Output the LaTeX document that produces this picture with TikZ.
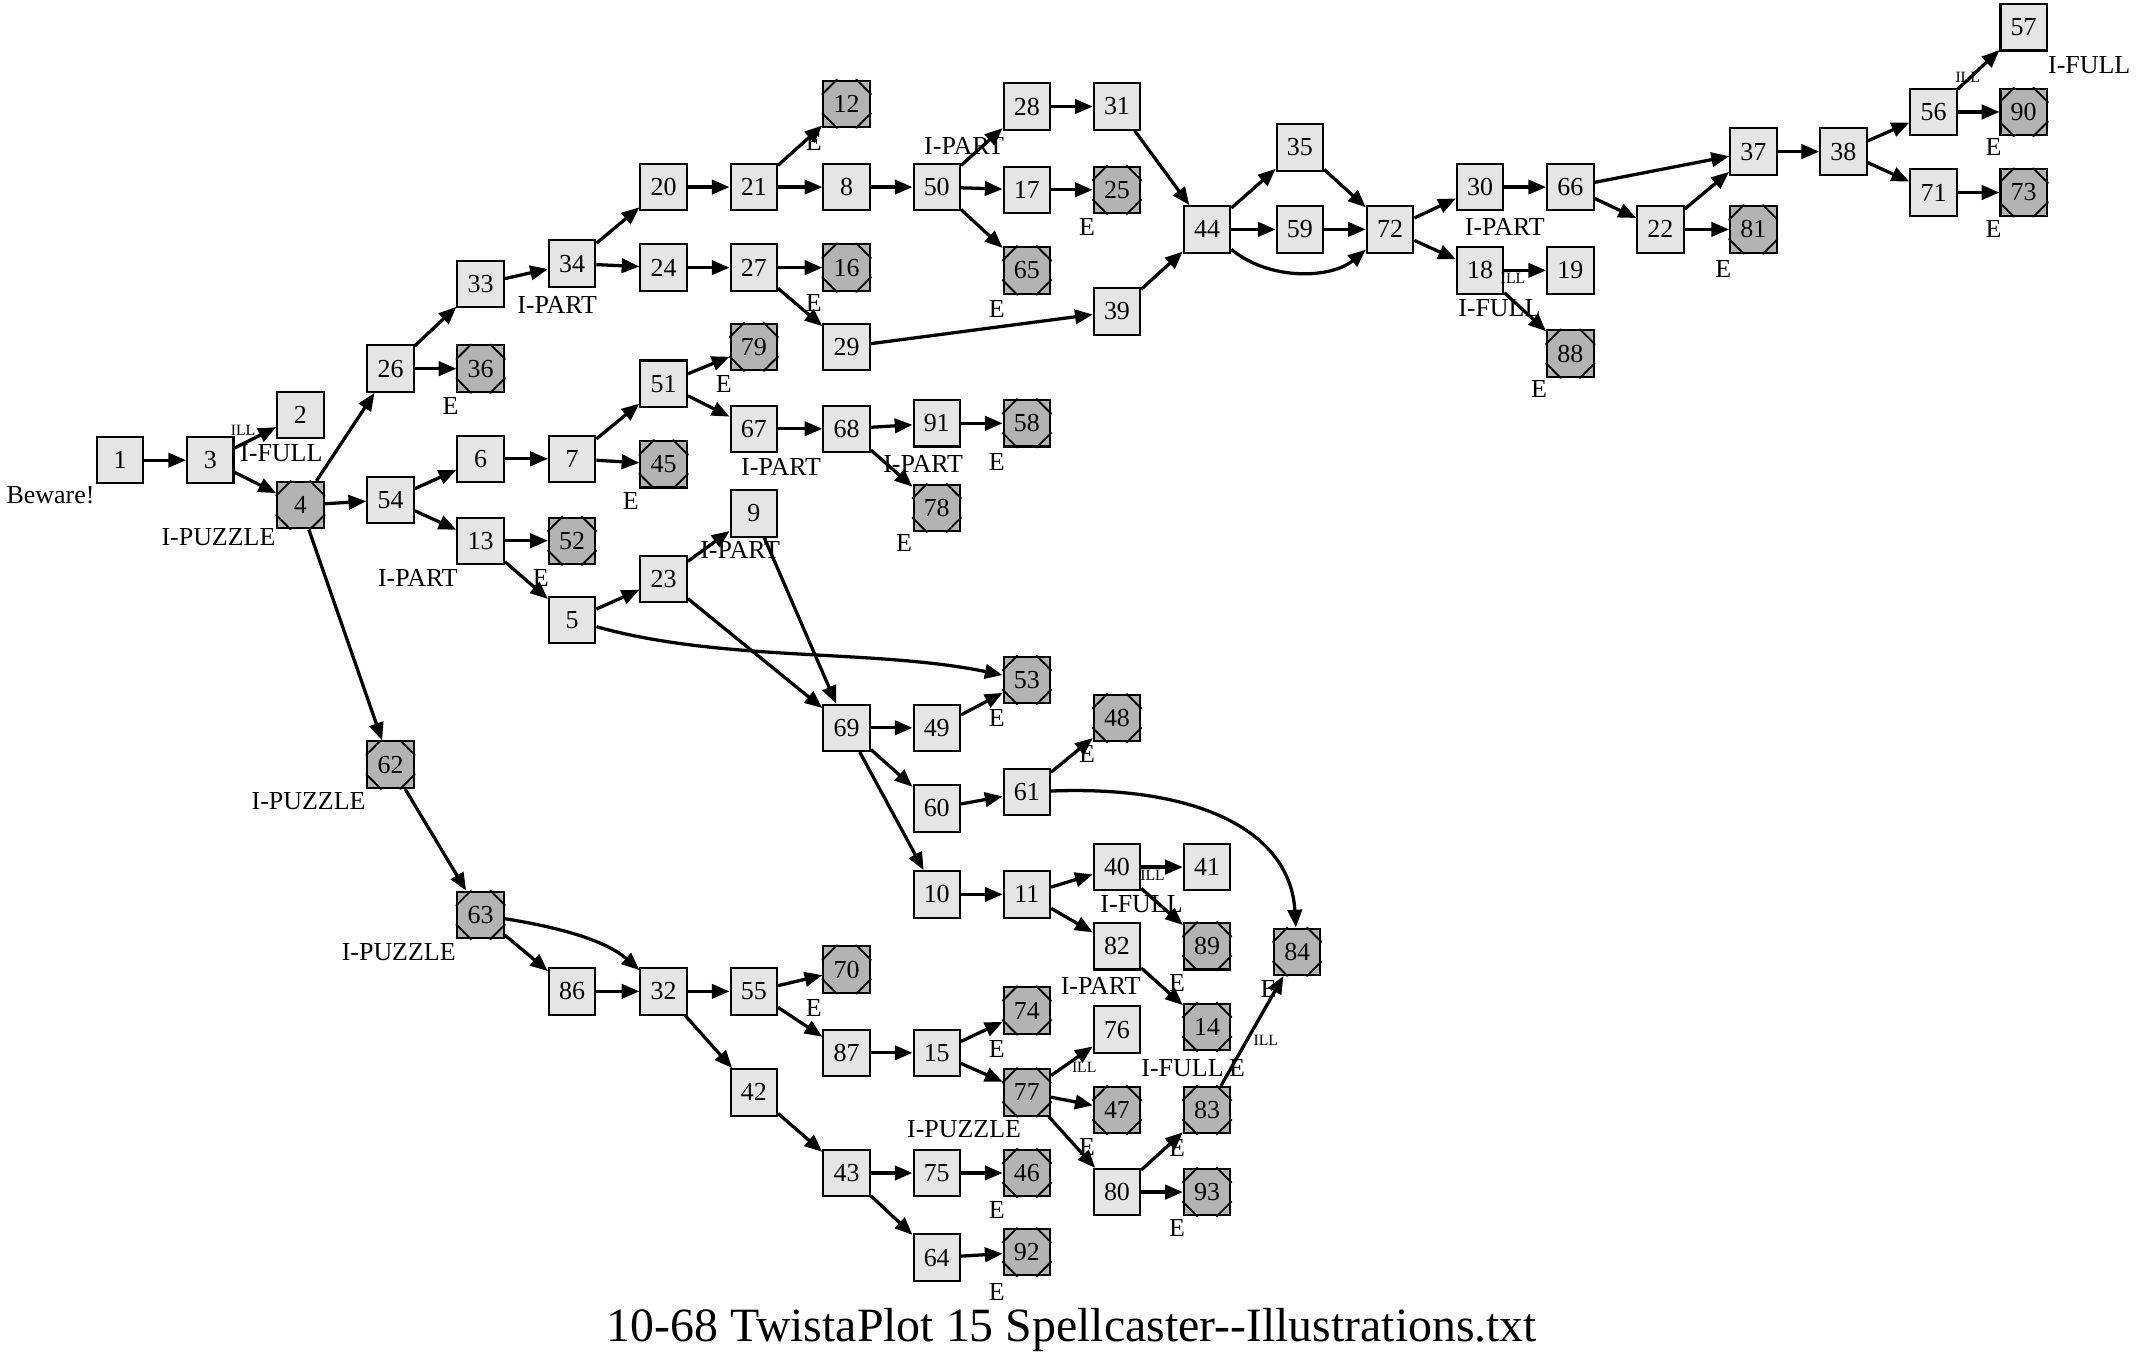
\documentclass[tikz,border=0pt]{standalone}
\usepackage{fontspec}
\setmainfont{Liberation Serif}
\usetikzlibrary{arrows.meta,calc}
\definecolor{lfill}{HTML}{E5E5E5}
\definecolor{gfill}{HTML}{B3B3B3}
\begin{document}
\begin{tikzpicture}[x=1pt,y=-1pt,
 base/.style={draw=black, line width=1.5pt, minimum size=34pt, inner sep=0pt, font=\fontsize{19}{22}\selectfont},
 ln/.style={base, fill=lfill},
 gn/.style={base, fill=gfill},
 cut/.style={line width=1.4pt, line cap=round},
 edge/.style={line width=2.4pt, -{Triangle[length=13pt,width=10.5pt]}},
 xl/.style={font=\fontsize{19}{22}\selectfont, inner sep=0pt},
 il/.style={font=\fontsize{11.5}{13}\selectfont, inner sep=0pt}]
\useasboundingbox (0,0) rectangle (1565,1002.6);
% light nodes
\foreach \n/\x/\y in {1/88/337, 3/154/337, 2/220/304, 26/286/270, 54/286/366, 33/352/208,
  34/419/193, 20/486/137, 24/486/196, 21/552/137, 8/620/137, 27/552/196, 29/620/254,
  50/686/137, 28/752/78, 17/752/139, 31/818/78, 39/818/228, 44/884/168, 35/952/108,
  59/952/168, 72/1018/168, 30/1084/137, 18/1084/198, 66/1150/137, 19/1150/198,
  22/1216/168, 37/1284/111, 38/1350/111, 56/1416/82, 71/1416/141, 57/1482/20,
  6/352/336, 7/419/336, 51/486/281, 67/552/314, 68/620/314, 91/686/310,
  13/352/396, 5/419/454, 23/486/424, 9/552/376, 69/620/533, 49/686/533, 60/686/592,
  61/752/580, 10/686/655, 11/752/655, 40/818/635, 41/884/635, 82/818/693,
  86/419/726, 32/486/726, 55/552/726, 87/620/771, 42/552/800, 15/686/771, 76/818/754,
  43/620/859, 75/686/859, 64/686/921, 80/818/873}
  \node[ln] (n\n) at (\x,\y) {\n};
% gray nodes with cut corners
\foreach \n/\x/\y in {4/220/370, 62/286/560, 36/352/270, 12/620/76, 16/620/196,
  65/752/198, 25/818/139, 88/1150/259, 81/1284/168, 90/1482/82, 73/1482/141,
  45/486/340, 79/552/254, 58/752/310, 78/686/372, 52/419/396, 53/752/498, 48/818/526,
  89/884/693, 84/950/697, 14/884/752, 63/352/670, 70/620/710, 74/752/740, 77/752/800,
  47/818/813, 46/752/859, 92/752/917, 83/884/813, 93/884/873}
  {\node[gn] (n\n) at (\x,\y) {\n};
   \draw[cut] ($(n\n.north west)!0.3!(n\n.north east)$) -- ($(n\n.north west)!0.3!(n\n.south west)$)
     ($(n\n.north east)!0.3!(n\n.north west)$) -- ($(n\n.north east)!0.3!(n\n.south east)$)
     ($(n\n.south east)!0.3!(n\n.south west)$) -- ($(n\n.south east)!0.3!(n\n.north east)$)
     ($(n\n.south west)!0.3!(n\n.south east)$) -- ($(n\n.south west)!0.3!(n\n.north west)$);}
% straight edges
\foreach \a/\b in {1/3, 3/2, 3/4, 4/26, 4/54, 4/62, 26/33, 26/36, 33/34, 34/20, 34/24,
  20/21, 21/12, 21/8, 8/50, 24/27, 27/16, 27/29, 29/39, 50/28, 50/17, 50/65, 28/31,
  17/25, 31/44, 39/44, 44/35, 44/59, 35/72, 59/72, 72/30, 72/18, 30/66, 18/19, 18/88,
  66/37, 66/22, 22/37, 22/81, 37/38, 38/56, 38/71, 56/57, 56/90, 71/73,
  54/6, 54/13, 6/7, 7/51, 7/45, 51/79, 51/67, 67/68, 68/91, 68/78, 91/58,
  13/52, 13/5, 5/23, 23/9, 23/69, 9/69, 69/49, 69/60, 69/10, 49/53, 60/61, 61/48,
  10/11, 11/40, 11/82, 40/41, 40/89, 82/14, 62/63, 63/86, 86/32, 32/55, 32/42,
  55/70, 55/87, 87/15, 15/74, 15/77, 77/76, 77/47, 77/80, 42/43, 43/75, 43/64,
  75/46, 64/92, 80/83, 80/93, 83/84}
  \draw[edge] (n\a) -- (n\b);
% curved edges
\draw[edge] (n44) .. controls (930,206) and (975,204) .. (n72);
\draw[edge] (n5) .. controls (530,485) and (640,475) .. (n53);
\draw[edge] (n61) .. controls (880,575) and (945,610) .. (n84);
\draw[edge] (n63) .. controls (415,680) and (445,690) .. (n32);
% external labels
\foreach \t/\x/\y/\m in {Beware!/37/363/a, I-FULL/206/332/b, I-PUZZLE/160/393/c,
  E/330/297/d, I-PART/408/223/e, E/596/104/f, E/596/222/g, I-PART/706/107/h,
  E/796/166/i, E/730/226/j, I-PART/1102/166/k, I-FULL/1098/226/l, E/1127/285/m,
  E/1262/197/o, I-FULL/1530/48/p, E/1460/108/q, E/1460/168/r, E/530/281/s,
  E/462/367/t, I-PART/572/342/u, I-PART/676/340/v, E/730/338/w, E/662/398/x,
  I-PART/306/423/y, E/396/423/z, I-PART/542/403/aa, E/730/526/ab, E/796/552/ac,
  I-PUZZLE/226/587/ad, I-FULL/836/662/ae, E/862/720/af, I-PART/806/722/ag,
  E/929/724/ah, I-FULL/866/782/ai, E/906/782/aj, E/596/738/ak, E/730/768/al,
  I-PUZZLE/706/827/am, E/796/840/an, E/862/841/ao, E/730/886/ap, E/862/899/aq,
  E/730/946/ar, I-PUZZLE/292/697/as}
  \node[xl] (lab\m) at (\x,\y) {\t};
% edge labels
\foreach \x/\y/\m in {178/315/a, 1108/204/b, 1441/57/c, 844/641/d, 794/782/e, 927/762/f}
  \node[il] (ill\m) at (\x,\y) {ILL};
% title
\node[font=\fontsize{35}{40}\selectfont, inner sep=0pt, anchor=base] (title) at (785,982.5)
  {10-68 TwistaPlot 15 Spellcaster{-}{-}Illustrations.txt};
\end{tikzpicture}
\end{document}
